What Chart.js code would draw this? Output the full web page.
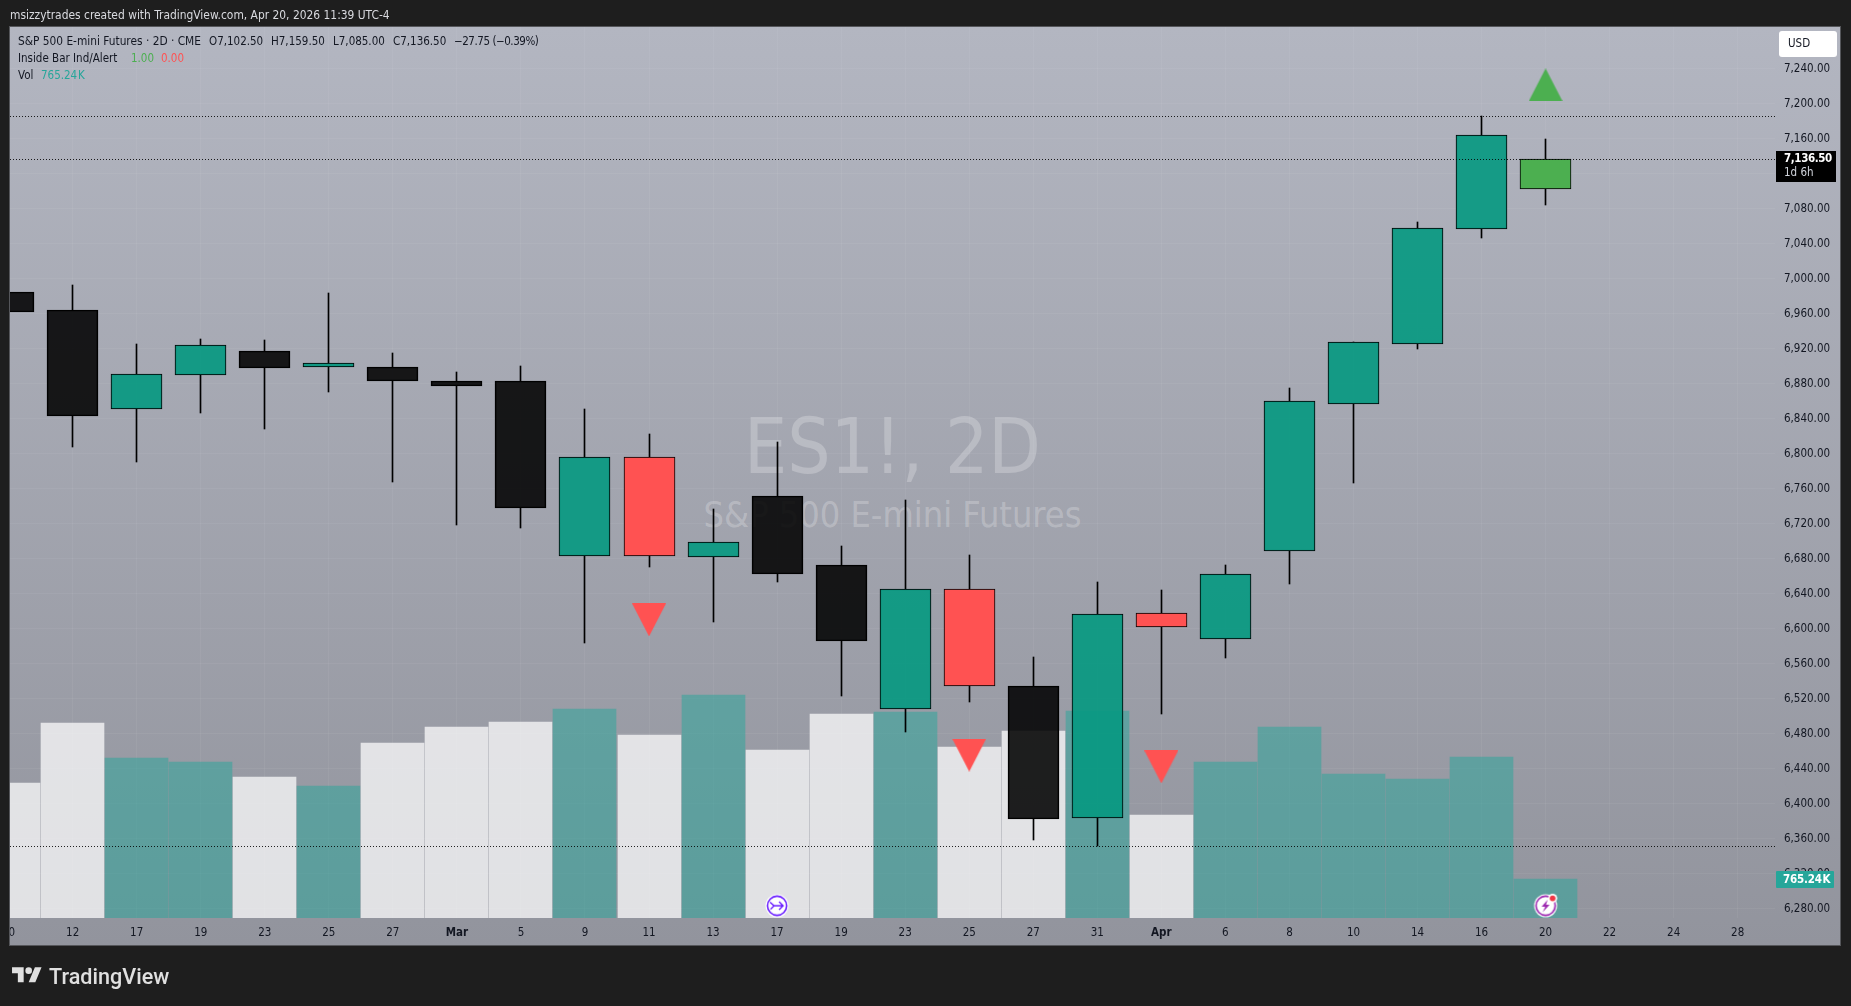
<!DOCTYPE html>
<html>
<head>
<meta charset="utf-8">
<title>ES1! 2D</title>
<script src="https://cdn.jsdelivr.net/npm/chart.js@4"></script>
<style>
html,body{margin:0;padding:0;background:#1e1e1e;width:1851px;height:1006px;overflow:hidden}
body{font-family:"DejaVu Sans Condensed","DejaVu Sans",sans-serif;font-stretch:condensed}
.abs{position:absolute;white-space:pre;line-height:1}
#pane{position:absolute;left:10px;top:27px;width:1830px;height:918px;background:linear-gradient(180deg,#b3b6c1 0%,#92949d 100%)}
#frame{position:absolute;left:9px;top:26px;width:1830px;height:918px;border:1px solid #55565a;z-index:4}
#mask{position:absolute;left:0;top:26px;width:9px;height:920px;background:#1e1e1e;z-index:4}
canvas{position:absolute;left:0;top:0;z-index:2}
.wm{color:rgba(255,255,255,.24);left:10px;width:1765px;text-align:center;z-index:1;font-family:"DejaVu Sans Condensed","DejaVu Sans",sans-serif}
.t{z-index:5;font-size:11.5px;color:#131722}
.w{font-size:11.8px}
.g{color:#4caf50}.r{color:#ff5252}.v{color:#26a69a}
#priceTag{position:absolute;left:1776px;top:151px;width:60px;height:31px;background:#000;z-index:4}
#volTag{position:absolute;left:1776px;top:871px;width:58px;height:17px;background:#26a69a;border-radius:1px;z-index:4}
#usd{position:absolute;left:1779px;top:31px;width:58px;height:26px;background:#fff;border-radius:3px;z-index:4}
</style>
</head>
<body>
<div class="abs t" style="left:10px;top:10px;color:#d9dadf;font-size:11.9px">msizzytrades created with TradingView.com, Apr 20, 2026 11:39 UTC-4</div>
<div id="pane"></div>
<div class="abs wm" style="top:409px;font-size:76px">ES1!, 2D</div>
<div class="abs wm" style="top:497px;font-size:35.8px">S&amp;P 500 E-mini Futures</div>
<canvas id="c" width="1851" height="1006"></canvas>
<div id="mask"></div><div id="frame"></div>
<div class="abs t w" style="left:18px;top:36px">S&amp;P 500 E-mini Futures · 2D · CME</div>
<div class="abs t" style="left:209px;top:36px">O7,102.50</div>
<div class="abs t" style="left:271px;top:36px">H7,159.50</div>
<div class="abs t" style="left:333px;top:36px">L7,085.00</div>
<div class="abs t" style="left:393px;top:36px">C7,136.50</div>
<div class="abs t" style="left:454px;top:36px;letter-spacing:-.45px">−27.75 (−0.39%)</div>
<div class="abs t" style="left:18px;top:53px">Inside Bar Ind/Alert</div>
<div class="abs t g" style="left:131px;top:53px">1.00</div>
<div class="abs t r" style="left:161px;top:53px">0.00</div>
<div class="abs t" style="left:18px;top:70px">Vol</div>
<div class="abs t v" style="left:41px;top:70px;word-spacing:-2.5px">765.24 K</div>
<div id="usd"></div>
<div class="abs t" style="left:1788px;top:38px">USD</div>
<div id="priceTag"></div>
<div class="abs t" style="left:1784px;top:153px;color:#fff;font-weight:bold;letter-spacing:-.4px">7,136.50</div>
<div class="abs t" style="left:1784px;top:167px;color:#d1d4dc">1d 6h</div>
<div id="volTag"></div>
<div class="abs t" style="left:1783px;top:874px;color:#fff;font-weight:bold;word-spacing:-2.5px;letter-spacing:-.2px">765.24 K</div>
<svg style="position:absolute;left:12px;top:964px;z-index:5" width="30" height="23.3" viewBox="0 0 36 28"><path fill="#e0e0e0" d="M14 22H7V11H0V4h14v18zM28 22h-8l7.5-18h8L28 22z"/><circle fill="#e0e0e0" cx="20" cy="8" r="4"/></svg>
<div class="abs" style="left:49px;top:964px;z-index:5;color:#e0e0e0;font:500 21.6px Roboto,sans-serif;">TradingView</div>

<script>
const categories = ['10','12','17','19','23','25','27','Mar','5','9','11','13','17','19','23','25','27','31','Apr','6','8','10','14','16','20','22','24','28'];
const opens  = [6984.75,6964.25,6851.75,6890.5,6917.25,6899.75,6899,6883,6883,6683.75,6796.25,6682.5,6751.5,6672.75,6508.75,6645.25,6534.5,6383.5,6618,6588.75,6688.75,6857.5,6925.25,7056.75,7102.5];
const highs  = [7005,6993,6925.5,6931.5,6930.25,6984,6915.5,6893.5,6900.5,6851,6822.75,6737,6813.5,6694.75,6747.5,6684.5,6568,6653.5,6644.5,6673,6875.5,6927.5,7065,7186,7159.5];
const lows   = [6940,6808.25,6791,6847,6828.75,6871,6768.25,6719,6715.75,6584.25,6671,6608.25,6654,6523.75,6482.5,6516.75,6359,6352.25,6503,6567,6651.75,6766.75,6920.25,7047,7085];
const closes = [6962.5,6843.75,6891,6924.25,6898.5,6903.5,6883.75,6878,6738.5,6796.25,6683.75,6699,6663,6586.5,6645.25,6534.25,6382.5,6616.75,6602.5,6662.5,6860.25,6927.5,7058,7164.25,7136.5];
const volumesK = [2663,3850,3158,3079,2782,2604,3454,3771,3870,4127,3613,4404,3316,4028,4068,3376,3692,4087,2031,3079,3771,2842,2743,3178,765.24];
const priceTicks = [6280,6320,6360,6400,6440,6480,6520,6560,6600,6640,6680,6720,6760,6800,6840,6880,6920,6960,7000,7040,7080,7120,7160,7200,7240];
const insideDownIdx = [10,15,18];
const insideDownY = [6610.25,6455.75,6442.25];
const insideUpIdx = [24];
const insideUpY = [7221.75];
const refLevels = [7186,7136.5,6351.5];
const eventIdx = [12,24];
const eventVolY = [243,243];

const xMin = 0.02155, xMax = 27.5824;
const C_UP='rgba(8,153,129,0.92)', C_DN='rgba(0,0,0,0.87)', C_RED='#ff5252', C_GREEN='#4caf50';

function bodyColor(i){
  if(insideDownIdx.includes(i)) return C_RED;
  if(insideUpIdx.includes(i)) return C_GREEN;
  return closes[i]>=opens[i]?C_UP:C_DN;
}
function triangle(color,up){
  const c=document.createElement('canvas');c.width=34;c.height=33;
  const g=c.getContext('2d');g.fillStyle=color;g.beginPath();
  if(up){g.moveTo(17,0);g.lineTo(34,33);g.lineTo(0,33);}
  else{g.moveTo(0,0);g.lineTo(34,0);g.lineTo(17,33);}
  g.closePath();g.fill();return c;
}
function eventIcon(kind){
  const c=document.createElement('canvas');c.width=26;c.height=26;
  const g=c.getContext('2d');const m=13;
  g.fillStyle='#fff';g.beginPath();g.arc(m,m,11.5,0,7);g.fill();
  const col=kind===0?'#6a1fff':'#9c27b0';
  g.strokeStyle=col;g.lineWidth=1.6;g.beginPath();g.arc(m,m,9.6,0,7);g.stroke();
  g.lineWidth=1.4;g.beginPath();
  if(kind===0){
    g.moveTo(6,9.5);g.lineTo(10,13);g.lineTo(19,13);g.moveTo(15,9);g.lineTo(19,13);g.lineTo(15,17);g.moveTo(10,13);g.lineTo(6.5,16.5);g.stroke();
  }else{
    g.fillStyle=col;g.moveTo(15,7);g.lineTo(9,14);g.lineTo(12.6,14);g.lineTo(10,19.5);g.lineTo(17,12);g.lineTo(13.4,12);g.closePath();g.fill();
    g.fillStyle='#fff';g.beginPath();g.arc(20,5.6,4.6,0,7);g.fill();
    g.fillStyle='#f23645';g.beginPath();g.arc(20,5.6,2.9,0,7);g.fill();
  }
  return c;
}
const idxs=[...opens.keys()];
const snap={id:'snap',beforeDatasetsDraw(ch){
  ch.getSortedVisibleDatasetMetas().forEach(m=>{
    (m.data||[]).forEach(el=>{
      if(m.type==='bar'){el.x=Math.floor(el.x)+.5;el.y=Math.round(el.y);el.base=Math.round(el.base);}
      else if(m.type==='line'){el.y=Math.floor(el.y)+.5;}
    });
  });
}};
const fontFam='"DejaVu Sans Condensed","DejaVu Sans",sans-serif';
const wickStyle={yAxisID:'y',order:5,grouped:false,barThickness:1,borderWidth:0,backgroundColor:'#000'};
new Chart(document.getElementById('c'),{
  type:'bar',
  plugins:[snap],
  data:{datasets:[
    {label:'Vol',yAxisID:'yVol',order:6,grouped:false,barThickness:63,borderWidth:0,
      data:idxs.map(i=>({x:i,y:volumesK[i]})),
      backgroundColor:idxs.map(i=>closes[i]>=opens[i]?'rgba(38,166,154,0.5)':'rgba(255,255,255,0.72)')},
    {label:'Upper wick',...wickStyle,data:idxs.map(i=>({x:i,y:[Math.max(opens[i],closes[i]),highs[i]]}))},
    {label:'Lower wick',...wickStyle,data:idxs.map(i=>({x:i,y:[lows[i],Math.min(opens[i],closes[i])]}))},
    {label:'Body',yAxisID:'y',order:4,grouped:false,barThickness:51,borderWidth:1,borderColor:'#000',borderSkipped:false,
      data:idxs.map(i=>({x:i,y:[opens[i],closes[i]]})),backgroundColor:idxs.map(bodyColor)},
    ...refLevels.map(v=>({type:'line',label:'Level',yAxisID:'y',order:3,pointRadius:0,borderColor:'rgba(0,0,0,0.85)',borderWidth:1,borderDash:[1,2],
      data:[{x:xMin,y:v},{x:xMax,y:v}]})),
    {type:'scatter',label:'Inside down',yAxisID:'y',order:2,pointStyle:triangle('#ff5252',false),
      data:insideDownIdx.map((i,k)=>({x:i,y:insideDownY[k]}))},
    {type:'scatter',label:'Inside up',yAxisID:'y',order:2,pointStyle:triangle('#4caf50',true),
      data:insideUpIdx.map((i,k)=>({x:i,y:insideUpY[k]}))},
    {type:'scatter',label:'Events',yAxisID:'yVol',order:1,pointStyle:eventIdx.map((_,k)=>eventIcon(k)),
      data:eventIdx.map((i,k)=>({x:i,y:eventVolY[k]}))}
  ]},
  options:{
    responsive:false,animation:false,devicePixelRatio:1,
    layout:{padding:{left:10,top:27,right:11,bottom:61}},
    plugins:{legend:{display:false},tooltip:{enabled:false},title:{display:false}},
    scales:{
      x:{type:'linear',offset:false,min:xMin,max:xMax,
        grid:{offset:false,color:'rgba(255,255,255,0.05)',drawTicks:false,lineWidth:1},border:{display:false},
        afterBuildTicks(s){s.ticks=categories.map((_,i)=>({value:i}));},
        afterFit(s){s.height=27;s.paddingLeft=0;s.paddingRight=0;},
        ticks:{autoSkip:false,maxRotation:0,minRotation:0,padding:8,color:'#131722',
          callback:v=>categories[v],
          font:ctx=>{const l=categories[ctx.tick?ctx.tick.value:0];return {family:fontFam,size:11.5,weight:(l==='Mar'||l==='Apr')?'bold':'normal'};}}
      },
      y:{type:'linear',position:'right',min:6269.6,max:7287.9,
        grid:{color:'rgba(255,255,255,0.05)',drawTicks:false},border:{display:false},
        afterBuildTicks(s){s.ticks=priceTicks.map(v=>({value:v}));},
        afterFit(s){s.width=65;},
        ticks:{autoSkip:false,padding:9,color:'#131722',font:{family:fontFam,size:11.5},
          callback:v=>v.toLocaleString('en-US',{minimumFractionDigits:2,maximumFractionDigits:2})}
      },
      yVol:{type:'linear',display:false,min:0,max:17616}
    }
  }
});
</script>
</body>
</html>
